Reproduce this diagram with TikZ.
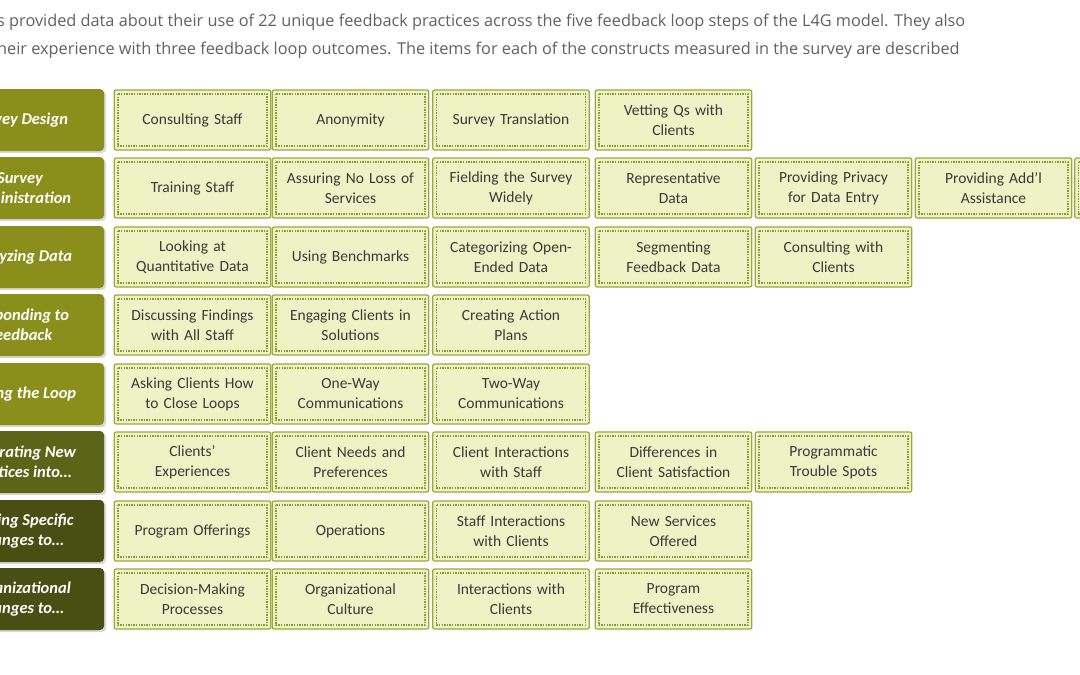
\documentclass[tikz,border=0pt]{standalone}
\usepackage{fontspec}
\setmainfont{Carlito}
\newfontfamily\hdr{Open Sans}
\usetikzlibrary{shadows}
\definecolor{cellfill}{HTML}{EEF3C6}
\definecolor{celldraw}{HTML}{9AAA3A}
\definecolor{olive}{HTML}{8A8F1C}
\definecolor{olivedk}{HTML}{5C6417}
\definecolor{olivedkr}{HTML}{494E12}
\definecolor{txt}{HTML}{3A3A3A}
\tikzset{
 cell/.style={draw=celldraw,line width=1.2pt,fill=cellfill,rounded corners=2pt,minimum width=155pt,minimum height=60pt,
   text width=150pt,align=center,font=\fontsize{15.5}{20}\selectfont,text=txt},
 inner/.style={draw=celldraw!90!black,line width=1.6pt,dash pattern=on 1.4pt off 1.2pt},
 lab/.style={fill=#1,rounded corners=4pt,minimum width=184pt,minimum height=62pt,drop shadow={opacity=0.3,shadow xshift=2pt,shadow yshift=-2pt}},
 labt/.style={align=center,font=\bfseries\itshape\fontsize{16.5}{20}\selectfont,text=white,inner sep=0},
}
\begin{document}
\begin{tikzpicture}[x=1pt,y=-1pt]
\useasboundingbox (0,0) rectangle (1080,675);
\clip (0,0) rectangle (1080,675);
\fill[white] (0,0) rectangle (1080,675);
\node[anchor=west,text=txt!80,font=\hdr\fontsize{16.3}{20}\selectfont,inner sep=0] (h1) at (-3,22) {s provided data about their use of 22 unique feedback practices across the five feedback loop steps of the L4G model. They also};
\node[anchor=west,text=txt!80,font=\hdr\fontsize{16.3}{20}\selectfont,inner sep=0] (h2) at (-3,50) {heir experience with three feedback loop outcomes. The items for each of the constructs measured in the survey are described};
\foreach \t/\y/\c [count=\i] in {Survey Design/120/olive, Survey\\Administration/188/olive, Analyzing Data/257/olive, Responding to\\Feedback/325/olive, Closing the Loop/394/olive, Integrating New\\Practices into\ldots/462/olivedk, Making Specific\\Changes to\ldots/531/olivedkr, Organizational\\Changes to\ldots/599/olivedkr}
  {\node[lab=\c] (l\i) at (12,\y) {};
   \node[labt] (lt\i) at (20,\y) {\t};}
\def\cx#1{\ifcase#1\or192.5\or350.5\or511\or673.5\or833.5\or993.5\or1153\fi}
\foreach \t/\r/\k [count=\i] in {
 Consulting Staff/120/1, Anonymity/120/2, Survey Translation/120/3, Vetting Qs with\\Clients/120/4,
 Training Staff/188/1, Assuring No Loss of\\Services/188/2, Fielding the Survey\\Widely/188/3, Representative\\Data/188/4, Providing Privacy\\for Data Entry/188/5, Providing Add’l\\Assistance/188/6, {}/188/7,
 Looking at\\Quantitative Data/257/1, Using Benchmarks/257/2, Categorizing Open-\\Ended Data/257/3, Segmenting\\Feedback Data/257/4, Consulting with\\Clients/257/5,
 Discussing Findings\\with All Staff/325/1, Engaging Clients in\\Solutions/325/2, Creating Action\\Plans/325/3,
 Asking Clients How\\to Close Loops/394/1, One-Way\\Communications/394/2, Two-Way\\Communications/394/3,
 Clients’\\Experiences/462/1, Client Needs and\\Preferences/462/2, Client Interactions\\with Staff/462/3, Differences in\\Client Satisfaction/462/4, Programmatic\\Trouble Spots/462/5,
 Program Offerings/531/1, Operations/531/2, Staff Interactions\\with Clients/531/3, New Services\\Offered/531/4,
 Decision-Making\\Processes/599/1, Organizational\\Culture/599/2, Interactions with\\Clients/599/3, Program\\Effectiveness/599/4}
  {\node[cell] (c\i) at (\cx{\k},\r) {\t};
   \draw[inner] ([shift={(4.5pt,-4.5pt)}]c\i.north west) rectangle ([shift={(-4.5pt,4.5pt)}]c\i.south east);}
\end{tikzpicture}
\end{document}
